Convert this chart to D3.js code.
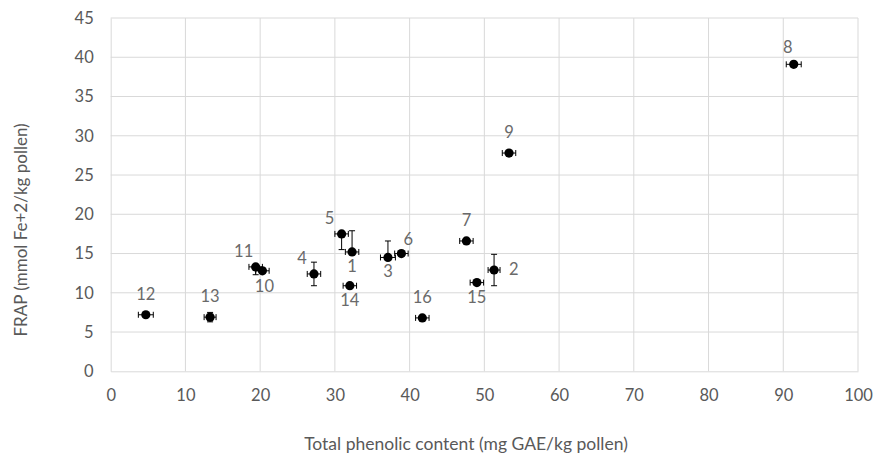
<!DOCTYPE html>
<html>
<head>
<meta charset="utf-8">
<script src="https://cdn.jsdelivr.net/npm/d3@7/dist/d3.min.js"></script>
<style>
  html, body { margin: 0; padding: 0; background: #ffffff; }
  svg { display: block; }
  text { font-family: Lato, "Open Sans", sans-serif; }
</style>
</head>
<body>
<svg id="chart" width="875" height="460"></svg>
<script>
// ---- data ----
const labels   = ["1","2","3","4","5","6","7","8","9","10","11","12","13","14","15","16"];
const phenolic = [32.3, 51.3, 37.1, 27.2, 30.9, 38.9, 47.6, 91.4, 53.3, 20.3, 19.4, 4.7, 13.3, 32.0, 49.0, 41.7];
const frap     = [15.2, 12.9, 14.5, 12.4, 17.5, 15.0, 16.6, 39.1, 27.8, 12.8, 13.3, 7.2, 6.9, 10.9, 11.3, 6.8];
const xErr     = [0.9, 0.8, 1.0, 0.9, 0.9, 0.9, 0.9, 1.0, 0.9, 0.9, 0.9, 1.0, 0.8, 0.9, 0.9, 0.9];
const yErrPlus = [2.7, 2.0, 2.1, 1.5, 0.0, 0.3, 0.3, 0.3, 0.3, 0.3, 0.3, 0.3, 0.6, 0.3, 0.3, 0.3];
const yErrMinus= [0.0, 2.0, 0.0, 1.5, 2.0, 0.3, 0.3, 0.3, 0.3, 0.3, 1.0, 0.3, 0.6, 0.3, 0.3, 0.3];
// label placement per point
const labelPos = ["b","r","b","l","l","ar","a","al","a","br","l","a","a","b","b","a"];
const xTicks = [0,10,20,30,40,50,60,70,80,90,100];
const yTicks = [0,5,10,15,20,25,30,35,40,45];
const xTitle = "Total phenolic content (mg GAE/kg pollen)";
const yTitle = "FRAP (mmol Fe+2/kg pollen)";

// ---- layout ----
const svg = d3.select("#chart");
const L = 110.7, R = 858, T = 18, B = 371.3;
const x = d3.scaleLinear().domain([0, 100]).range([L, R]);
const y = d3.scaleLinear().domain([0, 45]).range([B, T]);
const gridColor = "#d9d9d9";
const textColor = "#595959";
const fs = "16.5px";

// gridlines
svg.append("g").selectAll("line.v").data(xTicks.slice(1)).join("line")
  .attr("x1", d => x(d)).attr("x2", d => x(d)).attr("y1", T).attr("y2", B)
  .attr("stroke", gridColor).attr("stroke-width", 1);
svg.append("g").selectAll("line.h").data(yTicks.slice(1)).join("line")
  .attr("x1", L).attr("x2", R).attr("y1", d => y(d)).attr("y2", d => y(d))
  .attr("stroke", gridColor).attr("stroke-width", 1);

// axes
const xAxis = d3.axisBottom(x).tickValues(xTicks).tickSize(0).tickPadding(18);
const gx = svg.append("g").attr("transform", `translate(0,${B})`).call(xAxis);
gx.select(".domain").attr("stroke", gridColor);
gx.selectAll("text").attr("fill", textColor).attr("font-size", fs)
  .attr("font-family", "Lato, sans-serif");

const yAxis = d3.axisLeft(y).tickValues(yTicks).tickSize(0).tickPadding(17);
const gy = svg.append("g").attr("transform", `translate(${L},0)`).call(yAxis);
gy.select(".domain").attr("stroke", gridColor);
gy.selectAll("text").attr("fill", textColor).attr("font-size", fs)
  .attr("font-family", "Lato, sans-serif");

// titles
svg.append("text").attr("x", 466).attr("y", 450).attr("text-anchor", "middle")
  .attr("fill", textColor).attr("font-size", "17.5px").text(xTitle);
svg.append("text").attr("transform", `translate(27,230) rotate(-90)`)
  .attr("text-anchor", "middle").attr("fill", textColor).attr("font-size", "17px").text(yTitle);

// data
const pts = labels.map((l, i) => ({
  l, x: phenolic[i], y: frap[i], ex: xErr[i], ep: yErrPlus[i], em: yErrMinus[i], pos: labelPos[i]
}));
const cap = 3;
const eg = svg.append("g").attr("stroke", "#000").attr("stroke-width", 1).attr("fill", "none");
pts.forEach(p => {
  const cx = x(p.x), cy = y(p.y);
  const x1 = x(p.x - p.ex), x2 = x(p.x + p.ex);
  eg.append("line").attr("x1", x1).attr("x2", x2).attr("y1", cy).attr("y2", cy);
  eg.append("line").attr("x1", x1).attr("x2", x1).attr("y1", cy - cap).attr("y2", cy + cap);
  eg.append("line").attr("x1", x2).attr("x2", x2).attr("y1", cy - cap).attr("y2", cy + cap);
  if (p.ep > 0) {
    const yt = y(p.y + p.ep);
    eg.append("line").attr("x1", cx).attr("x2", cx).attr("y1", cy).attr("y2", yt);
    eg.append("line").attr("x1", cx - cap).attr("x2", cx + cap).attr("y1", yt).attr("y2", yt);
  }
  if (p.em > 0) {
    const yb = y(p.y - p.em);
    eg.append("line").attr("x1", cx).attr("x2", cx).attr("y1", cy).attr("y2", yb);
    eg.append("line").attr("x1", cx - cap).attr("x2", cx + cap).attr("y1", yb).attr("y2", yb);
  }
});

svg.append("g").selectAll("circle").data(pts).join("circle")
  .attr("cx", d => x(d.x)).attr("cy", d => y(d.y)).attr("r", 4.6).attr("fill", "#000");

const off = {
  a:  [0, -15], b: [0, 20], l: [-12, -10], r: [15, 5], ar: [7, -9], br: [2, 21], al: [-6, -11]
};
svg.append("g").selectAll("text").data(pts).join("text")
  .attr("x", d => x(d.x) + off[d.pos][0])
  .attr("y", d => y(d.y) + off[d.pos][1])
  .attr("text-anchor", d => d.pos === "r" ? "start" : "middle")
  .attr("fill", "#6a6a6a").attr("font-size", fs)
  .text(d => d.l);
</script>
</body>
</html>
